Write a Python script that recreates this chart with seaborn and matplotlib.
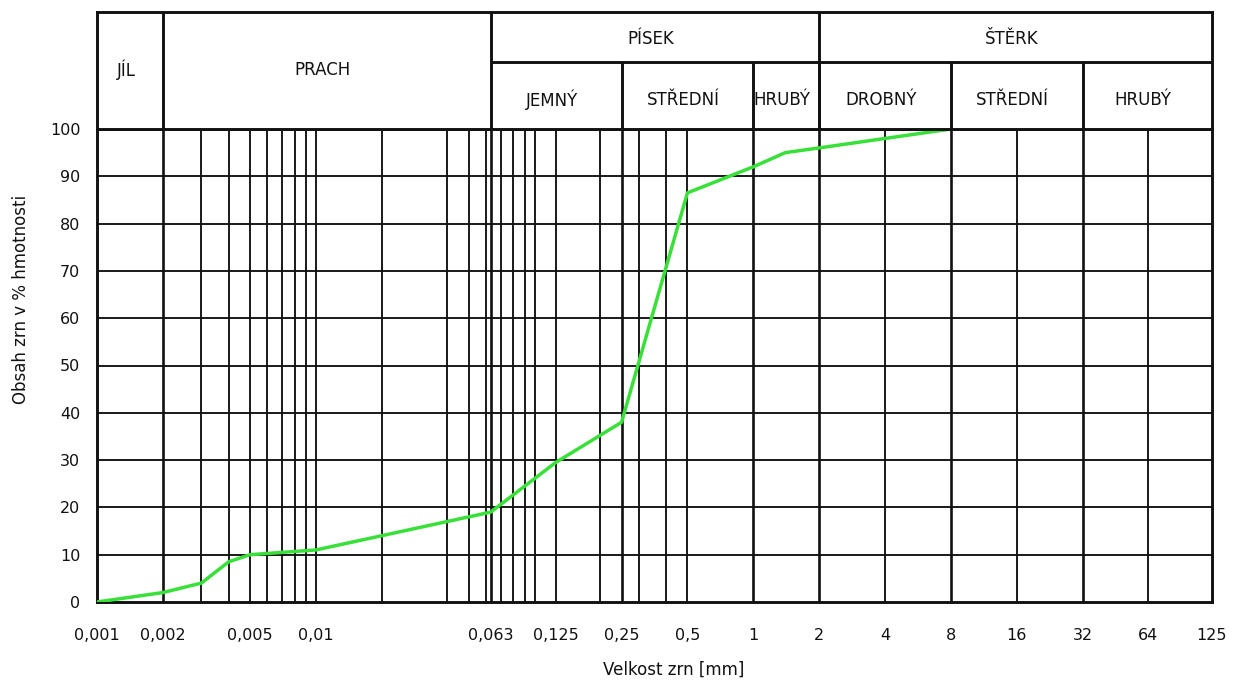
import numpy as np
import pandas as pd
import matplotlib
matplotlib.use("Agg")
import matplotlib.pyplot as plt
import matplotlib.transforms as mtransforms
from matplotlib.ticker import NullLocator
import seaborn as sns

# Grain size distribution curve
grain_size_mm = [0.001, 0.002, 0.003, 0.004, 0.005, 0.01, 0.063, 0.125, 0.25, 0.5, 1, 1.4, 2, 8]
passing_pct = [0, 2, 4, 8.5, 10, 11, 19, 29.5, 38, 86.5, 92, 95, 96, 100]

# Axis ticks
tick_values = [0.001, 0.002, 0.005, 0.01, 0.063, 0.125, 0.25, 0.5, 1, 2, 4, 8, 16, 32, 64, 125]
tick_labels = ["0,001", "0,002", "0,005", "0,01", "0,063", "0,125", "0,25", "0,5",
               "1", "2", "4", "8", "16", "32", "64", "125"]
y_ticks = list(range(0, 101, 10))

# Vertical grid of the log paper
grid_thin = [0.003, 0.004, 0.005, 0.006, 0.007, 0.008, 0.009, 0.01, 0.02, 0.04, 0.05, 0.06,
             0.07, 0.08, 0.09, 0.1, 0.125, 0.2, 0.3, 0.4, 0.5, 4, 16, 64]
grid_thick = [0.002, 0.063, 0.25, 1, 2, 8, 32]

# Soil fraction table
fraction_names = ["JÍL", "PRACH", "PÍSEK", "ŠTĚRK"]
fraction_bounds = [(0.001, 0.002), (0.002, 0.063), (0.063, 2), (2, 125)]
subfraction_names = ["JEMNÝ", "STŘEDNÍ", "HRUBÝ", "DROBNÝ", "STŘEDNÍ", "HRUBÝ"]
subfraction_bounds = [(0.063, 0.25), (0.25, 1), (1, 2), (2, 8), (8, 32), (32, 125)]

sns.set_theme(style="white")
plt.rcParams["font.family"] = ["DejaVu Sans"]

W, H = 1237, 680
fig = plt.figure(figsize=(W / 100, H / 100), dpi=100)
fig.patch.set_facecolor("white")

x0, x1 = 97, 1212
y_top, y_bot = 129, 602
hdr_top = 12
ax = fig.add_axes([x0 / W, 1 - y_bot / H, (x1 - x0) / W, (y_bot - y_top) / H])
hdr = fig.add_axes([x0 / W, 1 - y_top / H, (x1 - x0) / W, (y_top - hdr_top) / H])

frame_lw = 2.1
thin_lw = 1.35
thick_lw = 1.9
ink = "#111111"

# ---- main plot ----
ax.set_xscale("log", base=2)
ax.set_xlim(0.001, 125)
ax.set_ylim(0, 100)

for v in grid_thin:
    ax.axvline(v, color=ink, lw=thin_lw, zorder=1)
for v in grid_thick:
    ax.axvline(v, color=ink, lw=thick_lw, zorder=1)
for v in y_ticks[1:-1]:
    ax.axhline(v, color=ink, lw=thin_lw, zorder=1)

df = pd.DataFrame({"size": grain_size_mm, "pct": passing_pct})
sns.lineplot(data=df, x="size", y="pct", ax=ax, color="#3ae03a", lw=2.5,
             sort=False, estimator=None, zorder=3)

ax.set_xticks(tick_values)
ax.set_xticklabels(tick_labels)
ax.xaxis.set_minor_locator(NullLocator())
ax.set_yticks(y_ticks)
ax.set_yticklabels([str(v) for v in y_ticks])
ax.tick_params(axis="x", length=0, pad=19, labelsize=11.5, colors=ink)
ax.tick_params(axis="y", length=0, pad=12, labelsize=11.5, colors=ink)
for s in ax.spines.values():
    s.set_color(ink)
    s.set_linewidth(frame_lw)

ax.set_xlabel("Velkost zrn [mm]", fontsize=12, color=ink)
ax.xaxis.set_label_coords(0.517, -0.125)
ax.set_ylabel("Obsah zrn v % hmotnosti", fontsize=12, color=ink, va="center")
ax.yaxis.set_label_coords(-0.068, 0.64)

# ---- fraction table ----
hdr.set_xscale("log", base=2)
hdr.set_xlim(0.001, 125)
hdr.set_ylim(0, 1)
hdr.set_xticks([])
hdr.xaxis.set_minor_locator(NullLocator())
hdr.set_yticks([])
for s in hdr.spines.values():
    s.set_color(ink)
    s.set_linewidth(frame_lw)

row_split = 0.573
text_tr = mtransforms.offset_copy(hdr.transData, fig=fig, x=-4, y=0, units="dots")
sub_left = min(b[0] for b in subfraction_bounds)
sub_right = max(b[1] for b in subfraction_bounds)

for name, (a, b) in zip(fraction_names, fraction_bounds):
    has_sub = a >= sub_left and b <= sub_right
    if b < 125:
        hdr.axvline(b, color=ink, lw=frame_lw)
    yc = 0.769 if has_sub else 0.504
    hdr.text(np.sqrt(a * b), yc, name, ha="center", va="center", fontsize=12,
             color=ink, transform=text_tr)

hdr.hlines(row_split, sub_left, sub_right, color=ink, lw=frame_lw)
for name, (a, b) in zip(subfraction_names, subfraction_bounds):
    if b < sub_right:
        hdr.vlines(b, 0, row_split, color=ink, lw=frame_lw)
    hdr.text(np.sqrt(a * b), 0.248, name, ha="center", va="center", fontsize=12,
             color=ink, transform=text_tr)

fig.savefig("out.png", dpi=100, facecolor="white")
